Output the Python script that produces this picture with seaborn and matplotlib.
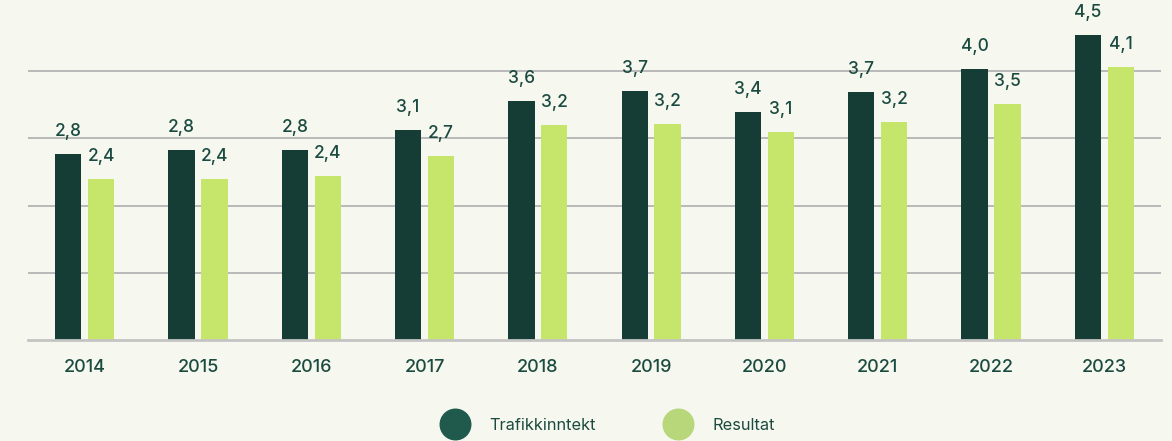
import pandas as pd
import matplotlib.pyplot as plt
import seaborn as sns
from matplotlib.lines import Line2D

# data (mrd. kr)
years = ['2014', '2015', '2016', '2017', '2018', '2019', '2020', '2021', '2022', '2023']
trafikkinntekt = [2.77, 2.83, 2.83, 3.13, 3.56, 3.70, 3.39, 3.69, 4.03, 4.54]
resultat = [2.40, 2.40, 2.44, 2.74, 3.20, 3.21, 3.10, 3.24, 3.51, 4.06]
series = ['Trafikkinntekt', 'Resultat']

df = pd.DataFrame({
    'year': years * 2,
    'value': trafikkinntekt + resultat,
    'serie': [series[0]] * len(years) + [series[1]] * len(years),
})

bg = '#f6f8ef'
dark = '#163d35'
light = '#c5e66b'
txt = '#1b4a40'

sns.set_theme(style='white')
plt.rcParams['font.family'] = ['Inter', 'DejaVu Sans']

fig = plt.figure(figsize=(11.72, 4.41), dpi=100, facecolor=bg)
ax = fig.add_axes([28 / 1172, 101 / 441, 1133 / 1172, 336 / 441])
ax.set_facecolor(bg)

sns.barplot(data=df, x='year', y='value', hue='serie', order=years, hue_order=series,
            palette=[dark, light], width=0.58, gap=0.2, ax=ax, legend=False,
            linewidth=0, saturation=1)

for cont in ax.containers:
    labs = [('%.1f' % b.get_height()).replace('.', ',') for b in cont]
    ax.bar_label(cont, labels=labs, padding=10, fontsize=12.5, color=txt,
                 fontweight='medium')

ax.set_ylim(0, 5)
ax.set_xlim(-0.5, 9.5)
ax.set_yticks([1, 2, 3, 4])
ax.yaxis.grid(True, color='#b9b9b9', linewidth=1.4)
ax.set_axisbelow(True)
ax.tick_params(axis='y', left=False, labelleft=False)
ax.tick_params(axis='x', bottom=False, labelsize=13, labelcolor=txt, pad=8)
for t in ax.get_xticklabels():
    t.set_fontweight('medium')
ax.set_xlabel('')
ax.set_ylabel('')
for s in ['top', 'right', 'left']:
    ax.spines[s].set_visible(False)
ax.spines['bottom'].set_color('#c4c4c4')
ax.spines['bottom'].set_linewidth(2)

handles = [Line2D([], [], marker='o', linestyle='', markersize=22, color='#1f5a4d'),
           Line2D([], [], marker='o', linestyle='', markersize=22, color='#b7d77a')]
fig.legend(handles, series, loc='center', bbox_to_anchor=(607 / 1172, 16 / 441), ncol=2,
           frameon=False, fontsize=11.8, labelcolor=txt, columnspacing=4.0,
           handletextpad=1.1)

fig.savefig('out.png', dpi=100, facecolor=bg)
